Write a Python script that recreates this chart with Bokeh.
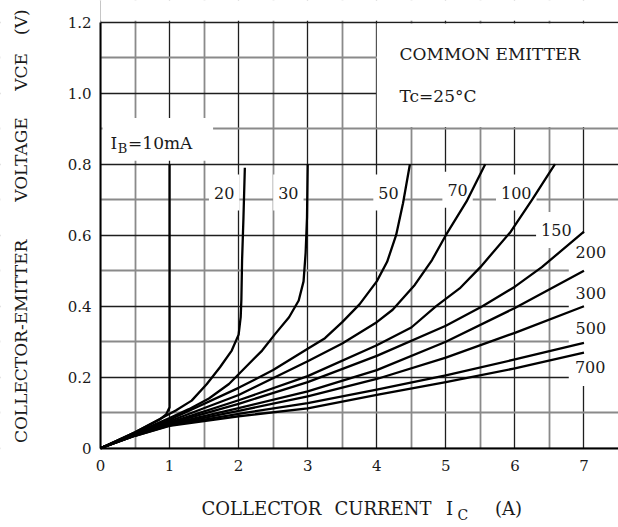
import math
from bokeh.plotting import figure
from bokeh.models import FixedTicker, Range1d, CustomJSTickFormatter
from bokeh.core.properties import value
from bokeh.embed import file_html
from bokeh.resources import INLINE

# ---------------- data ----------------
x_ticks = [0, 1, 2, 3, 4, 5, 6, 7]
x_minor = [0.5, 1.5, 2.5, 3.5, 4.5, 5.5, 6.5]
y_ticks = [0, 0.2, 0.4, 0.6, 0.8, 1.0, 1.2]
y_minor = [0.1, 0.3, 0.5, 0.7, 0.9, 1.1]

ib10_x = [0, 0.5, 0.85, 0.95, 1.0, 1.0]
ib10_y = [0, 0.045, 0.08, 0.095, 0.115, 0.80]

ib20_x = [0, 0.5, 1.09, 1.32, 1.54, 1.73, 1.9, 2.0, 2.03, 2.04, 2.05, 2.07, 2.09]
ib20_y = [0, 0.045, 0.106, 0.134, 0.181, 0.228, 0.275, 0.32, 0.37, 0.42, 0.53, 0.65, 0.79]

ib30_x = [0, 0.5, 1.0, 1.28, 1.57, 1.86, 2.1, 2.34, 2.53, 2.73, 2.87, 2.94, 2.97, 2.99, 3.0]
ib30_y = [0, 0.043, 0.085, 0.11, 0.14, 0.181, 0.228, 0.275, 0.322, 0.369, 0.416, 0.47, 0.55, 0.65, 0.80]

ib50_x = [0, 0.5, 1.0, 2.0, 2.5, 3.0, 3.25, 3.5, 3.75, 4.0, 4.15, 4.28, 4.38, 4.48]
ib50_y = [0, 0.041, 0.08, 0.17, 0.22, 0.28, 0.31, 0.355, 0.405, 0.47, 0.525, 0.60, 0.69, 0.80]

ib70_x = [0, 0.5, 1.0, 2.0, 3.0, 3.5, 4.0, 4.23, 4.55, 4.8, 5.0, 5.3, 5.57]
ib70_y = [0, 0.04, 0.076, 0.15, 0.245, 0.295, 0.355, 0.39, 0.46, 0.53, 0.60, 0.695, 0.80]

ib100_x = [0, 0.5, 1.0, 2.0, 3.0, 4.0, 4.5, 4.86, 5.2, 5.5, 5.94, 6.25, 6.58]
ib100_y = [0, 0.039, 0.072, 0.135, 0.203, 0.29, 0.34, 0.40, 0.45, 0.51, 0.61, 0.70, 0.80]

ib150_x = [0, 0.5, 1.0, 2.0, 3.0, 4.0, 5.0, 5.53, 6.0, 6.39, 7.0]
ib150_y = [0, 0.038, 0.07, 0.125, 0.186, 0.26, 0.345, 0.40, 0.455, 0.51, 0.61]

low_x = [0, 0.5, 1, 2, 3, 4, 5, 6, 7]
ib200_y = [0, 0.037, 0.068, 0.113, 0.16, 0.22, 0.30, 0.395, 0.50]
ib300_y = [0, 0.036, 0.066, 0.105, 0.146, 0.195, 0.255, 0.325, 0.40]
ib500_y = [0, 0.035, 0.064, 0.097, 0.127, 0.165, 0.205, 0.25, 0.297]
ib700_y = [0, 0.035, 0.063, 0.09, 0.112, 0.15, 0.186, 0.225, 0.269]

curve_label_text = ["20", "30", "50", "70", "100", "150", "200", "300", "500", "700"]
curve_label_x = [1.79, 2.72, 4.17, 5.17, 6.02, 6.60, 7.10, 7.10, 7.10, 7.09]
curve_label_y = [0.72, 0.72, 0.72, 0.728, 0.72, 0.615, 0.553, 0.437, 0.338, 0.228]

FONT = "DejaVu Serif"
INK = "#1a1a1a"
W, H = 618, 527
X0, X1, Y0, Y1 = 0, 7.5, 0, 1.2          # data area
# the frame spans the whole canvas; the data area sits at px 100..618 x 22..448
XS, YS = 69.07, 355.0                     # px per unit
xr = Range1d(X0 - 100 / XS, X1)
yr = Range1d(Y0 - (H - 447.7) / YS, Y0 + 447.7 / YS)

p = figure(width=W, height=H, x_range=xr, y_range=yr, title=None,
           output_backend="svg", toolbar_location=None,
           min_border_left=0, min_border_right=0, min_border_top=0, min_border_bottom=0)
p.background_fill_color = "white"
p.border_fill_color = "white"
p.outline_line_color = None

# axes at the data origin
xt = FixedTicker(ticks=x_ticks, minor_ticks=x_minor)
yt = FixedTicker(ticks=y_ticks, minor_ticks=y_minor)
p.xaxis.ticker = xt
p.yaxis.ticker = yt
p.xaxis.fixed_location = Y0
p.yaxis.fixed_location = X0
p.xaxis.bounds = (X0, X1)
p.yaxis.bounds = (Y0, Y1)
p.yaxis.formatter = CustomJSTickFormatter(code="return Math.abs(tick) < 1e-9 ? '0' : tick.toFixed(1);")
for ax in (p.xaxis[0], p.yaxis[0]):
    ax.axis_line_color = "black"
    ax.axis_line_width = 2
    ax.major_tick_line_color = None
    ax.minor_tick_line_color = None
    ax.major_tick_out = 0
    ax.major_tick_in = 0
    ax.major_label_text_font = FONT
    ax.major_label_text_font_size = "15px"
    ax.major_label_text_color = INK
p.xaxis.major_label_standoff = 8
p.yaxis.major_label_standoff = 5

# grid
for g in (p.xgrid[0], p.ygrid[0]):
    g.grid_line_color = "#1e1e1e"
    g.grid_line_width = 1.3
    g.grid_line_alpha = 1.0
    g.minor_grid_line_color = "#8a8a8a"
    g.minor_grid_line_width = 1.8
p.xgrid.ticker = xt
p.ygrid.ticker = yt

# white: outside the data area, and behind the text blocks (grid interrupted there)
m = 0.2
p.quad(left=[xr.start - m, xr.start - m, X0, 4.0, 0.03, 6.78],
       right=[X0, X1 + m, X1 + m, X1 + m, 1.63, X1 + m],
       bottom=[yr.start - m, yr.start - m, Y1 + 0.004, 0.905, 0.81, 0.175],
       top=[yr.end + m, Y0, yr.end + m, Y1 - 0.004, 0.93, 0.605],
       fill_color="white", line_color=None)

# curve labels (white boxes break the grid)
p.text(x=curve_label_x, y=curve_label_y, text=curve_label_text,
       text_font=value(FONT), text_font_size="16px", text_color=INK,
       text_align="center", text_baseline="middle",
       background_fill_color="white",
       padding=dict(left=5, right=5, top=12, bottom=12))

# curves
curves = [(ib10_x, ib10_y), (ib20_x, ib20_y), (ib30_x, ib30_y), (ib50_x, ib50_y),
          (ib70_x, ib70_y), (ib100_x, ib100_y), (ib150_x, ib150_y),
          (low_x, ib200_y), (low_x, ib300_y), (low_x, ib500_y), (low_x, ib700_y)]
for cx, cy in curves:
    p.line(cx, cy, line_color="black", line_width=2.3, line_join="round")

def txt(x, y, t, size="17px", align="left", angle=0.0):
    p.text(x=[x], y=[y], text=[t], text_font=value(FONT), text_font_size=size,
           text_color=INK, text_align=align, text_baseline="middle", angle=angle)

# in-plot texts
txt(0.145, 0.86, "I")
txt(0.25, 0.843, "B", size="13px")
txt(0.40, 0.86, "=10mA")
txt(4.33, 1.11, "COMMON EMITTER")
txt(4.33, 0.993, "Tc=25°C")

# axis titles
txt(2.33, -0.170, "COLLECTOR", size="18px", align="center")
txt(4.09, -0.170, "CURRENT", size="18px", align="center")
txt(5.053, -0.170, "I", size="18px", align="center")
txt(5.245, -0.188, "C", size="14px", align="center")
txt(5.907, -0.170, "(A)", size="18px", align="center")

rot = math.pi / 2
txt(-1.158, 0.301, "COLLECTOR-EMITTER", align="center", angle=rot)
txt(-1.158, 0.813, "VOLTAGE", align="center", angle=rot)
txt(-1.158, 1.060, "VCE", align="center", angle=rot)
txt(-1.158, 1.200, "(V)", align="center", angle=rot)

open("out.html", "w").write(file_html(p, INLINE))
